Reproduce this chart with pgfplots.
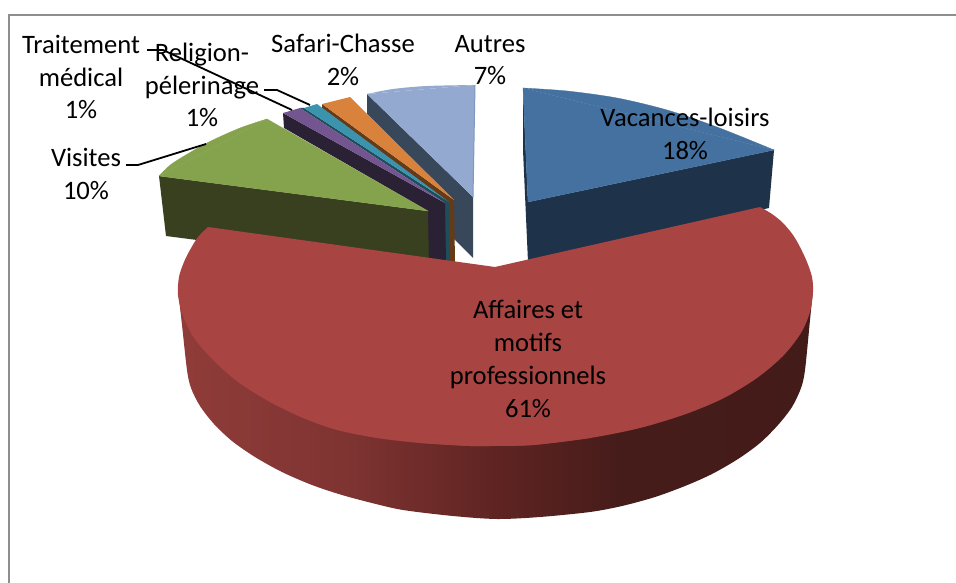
\documentclass[border=0pt]{standalone}
\usepackage{pgfplots}
\pgfplotsset{compat=1.18}
\usepackage{fontspec}
\setmainfont{Carlito}
\definecolor{frameg}{HTML}{8E8E8E}
\definecolor{redtop}{HTML}{A84442}
\definecolor{bluetop}{HTML}{44719F}
\definecolor{blueside}{HTML}{1E3249}
\definecolor{greentop}{HTML}{85A24C}
\definecolor{greenside}{HTML}{384020}
\definecolor{purptop}{HTML}{735690}
\definecolor{purpside}{HTML}{2B2135}
\definecolor{tealtop}{HTML}{3C93AD}
\definecolor{tealside}{HTML}{1E4D5B}
\definecolor{orgtop}{HTML}{D9823B}
\definecolor{orgside}{HTML}{653A17}
\definecolor{greytop}{HTML}{93A9CF}
\definecolor{greyedge}{HTML}{7F97BF}
\definecolor{greyside}{HTML}{38475A}
\pgfdeclarehorizontalshading{redside2}{100bp}{
 rgb(0bp)=(0.565,0.235,0.224);
 rgb(25bp)=(0.565,0.235,0.224);
 rgb(38bp)=(0.498,0.204,0.196);
 rgb(50bp)=(0.373,0.141,0.133);
 rgb(60bp)=(0.271,0.110,0.102);
 rgb(75bp)=(0.263,0.106,0.098);
 rgb(100bp)=(0.263,0.106,0.098)}
\tikzset{lab/.style={align=center, anchor=center, text=black, font=\fontsize{26.6}{32.8}\selectfont}}
\begin{document}
\begin{tikzpicture}
\begin{axis}[
 scale only axis, width=956pt, height=583pt,
 xmin=0, xmax=956, ymin=0, ymax=583, y dir=reverse,
 hide axis,
]
% page
\addplot[fill=white, draw=none] coordinates {(0,0)(956,0)(956,583)(0,583)} -- cycle;
% frame
\addplot[draw=frameg, line width=2pt] coordinates {(9,583)(9,15)(956,15)};
% Autres
\addplot[fill=greyside, draw=none] coordinates {(367,94)(473,197)(473,258)(454,239)(454,200)(367,114)} -- cycle;
\addplot[fill=greytop, draw=none, smooth] coordinates {(367,94)(393,89)(427,86)(475,85)};
\addplot[fill=greytop, draw=none] coordinates {(367,94)(475,85)(473,197)} -- cycle;
\addplot[draw=greyedge, line width=1pt] coordinates {(475,85)(473,197)};
% Safari-Chasse
\addplot[fill=orgside, draw=none] coordinates {(322,104)(454,200)(455,262)(449,262)(449,203)(322,108)} -- cycle;
\addplot[fill=orgtop, draw=none] coordinates {(322,104)(350,97)(454,200)} -- cycle;
% Traitement medical
\addplot[fill=tealside, draw=none] coordinates {(304,108)(449,202)(450,261)(445,261)(445,203)(300,108)} -- cycle;
\addplot[fill=tealtop, draw=none] coordinates {(304,108)(317,104)(449,202)} -- cycle;
% Religion-pelerinage
\addplot[fill=purpside, draw=none] coordinates {(283,113)(445,203)(446,262)(428,262)(428,211)(284,128)} -- cycle;
\addplot[fill=purptop, draw=none] coordinates {(283,113)(300,108)(445,203)} -- cycle;
% Visites
\addplot[fill=greenside, draw=none] coordinates {(159,176)(428,211)(429,270)(166,236)} -- cycle;
\addplot[fill=greentop, draw=greentop, line width=0.3pt, smooth] coordinates {(159,176)(173,163)(207,143)(240,128)(267,119)};
\addplot[fill=greentop, draw=greentop, line width=0.3pt] coordinates {(159,176)(267,119)(428,211)} -- cycle;
% Vacances-loisirs
\addplot[fill=blueside, draw=none] coordinates {(523,88)(528,202)(528,262)(523,150)} -- cycle;
\addplot[fill=blueside, draw=none] coordinates {(528,202)(774,150)(769,208)(528,262)} -- cycle;
\addplot[fill=bluetop, draw=bluetop, line width=0.3pt, smooth] coordinates {(523,88)(567,91)(617,98)(667,110)(717,127)(774,150)};
\addplot[fill=bluetop, draw=bluetop, line width=0.3pt] coordinates {(523,88)(774,150)(528,202)} -- cycle;
% Affaires side
\addplot[shading=redside2, draw=none, smooth] coordinates {
 (178,290)(182,325)(187,370)(191,388)(200,406)(214,424)(232,441)(255,457)(282,472)(312,485)(342,495)(372,503)(403,510)(453,516)(497,519)
 (540,517)(590,512)(622,506)(655,497)(685,486)(712,474)(738,459)(760,443)(778,425)(792,407)(801,388)(805,370)(810,320)(813,290)
 };
% Affaires top: right arc, left arc, centre
\addplot[fill=redtop, draw=none, smooth] coordinates {
 (760,207)(772,214)(783,223)(793,235)(800,247)(807,262)(812,277)(813,292)(810,312)(801,333)(783,356)(757,378)(724,398)(686,414)(640,428)(590,438)(533,445)(490,446)(470,446)(420,443)
 };
\addplot[fill=redtop, draw=none, smooth] coordinates {
 (590,438)(533,445)(490,446)(470,446)(420,443)(377,438)(337,430)(303,418)(270,402)(238,382)(213,360)(194,338)(183,316)(178,295)(179,277)(184,262)(190,250)(198,237)(208,227)
 };
\addplot[fill=redtop, draw=none] coordinates {(495,267)(760,207)(490,446)(208,227)} -- cycle;
% leaders
\addplot[draw=black, line width=1.8pt] coordinates {(147,50)(163,50)(292,110)};
\addplot[draw=black, line width=1.8pt] coordinates {(264,90)(277,90)(310,105)};
\addplot[draw=black, line width=1.8pt] coordinates {(126,165)(138,165)(206,144)};
% labels
\node[lab] at (axis cs:81,77) {Traitement\\médical\\1\%};
\node[lab] at (axis cs:202,85) {Religion-\\pélerinage\\1\%};
\node[lab] at (axis cs:343,60) {Safari-Chasse\\2\%};
\node[lab] at (axis cs:490,60) {Autres\\7\%};
\node[lab] at (axis cs:86,174) {Visites\\10\%};
\node[lab] at (axis cs:685,134) {Vacances-loisirs\\18\%};
\node[lab] at (axis cs:528,359) {Affaires et\\motifs\\professionnels\\61\%};
\end{axis}
\end{tikzpicture}
\end{document}
